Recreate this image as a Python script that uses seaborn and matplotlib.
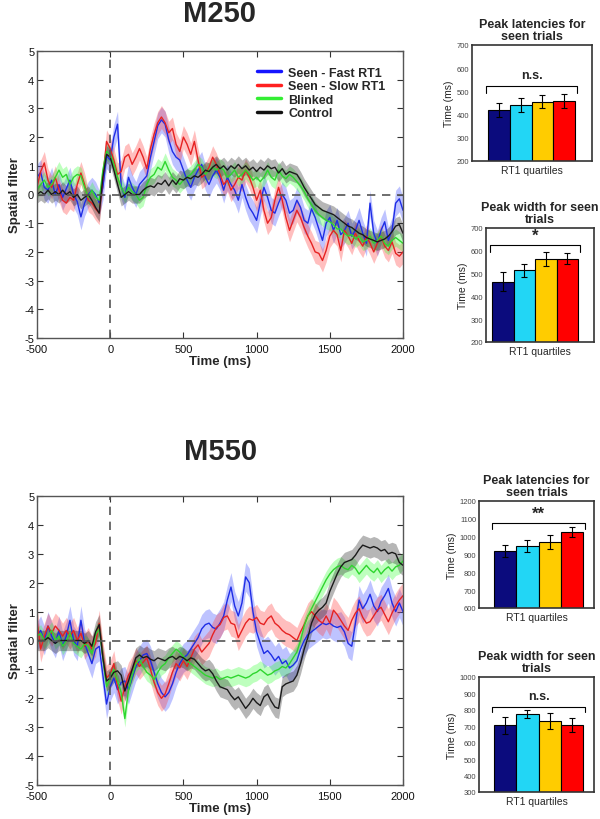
import numpy as np
import matplotlib
matplotlib.use("Agg")
import matplotlib.pyplot as plt
from matplotlib.lines import Line2D
import seaborn as sns

# ---- time courses (spatial filter output), sampled every 25 ms ----
time_ms = np.arange(-500, 2001, 25)

conditions = ["Seen - Fast RT1", "Seen - Slow RT1", "Blinked", "Control"]

m250_fast = [0.6, 0.77, 0.25, 0.15, 0.5, 0.0, 0.35, -0.1, 0.2, 0.5, 0.0, -0.25, -0.78, -0.3, 0.0, 0.15, 0.0, -0.3, 0.25, 1.35,
             1.2, 2.0, 2.45, 0.3, -0.1, 0.6, 0.25, 0.0, 0.35, 0.5, 0.65, 1.3, 1.85, 2.4, 2.6, 2.45, 1.9, 1.5, 1.3, 1.2,
             0.85, 0.5, 0.25, 0.6, 0.85, 1.05, 0.6, 0.35, 0.65, 0.85, 0.6, 0.15, 0.6, 0.35, 0.15, -0.2, 0.35, -0.1, -0.45, -0.65,
             -0.9, -0.3, 0.25, -0.1, -0.55, -0.65, -0.3, 0.0, -0.2, -0.65, -0.55, -0.2, -0.45, -0.9, -1.0, -0.5, -0.8, -1.2, -1.6, -1.0,
             -0.8, -1.25, -0.9, -1.4, -1.25, -1.0, -1.45, -1.25, -0.9, -1.35, -1.7, -0.3, -1.35, -1.7, -1.25, -0.95, -1.6, -1.25, -0.3, -0.15, -0.55]
m250_slow = [0.25, 0.8, 1.1, 0.5, 0.25, 0.6, 0.15, -0.2, -0.3, -0.1, -0.2, 0.35, 0.75, 0.35, -0.2, -0.3, -0.5, -0.65, 0.6, 1.85,
             1.6, 1.2, 0.7, 0.8, 1.3, 1.4, 1.05, 1.3, 1.6, 1.3, 0.9, 1.6, 2.1, 2.5, 2.7, 2.5, 2.15, 2.3, 1.75, 1.5,
             2.0, 1.75, 1.4, 1.85, 1.2, 0.6, 0.7, 0.95, 1.3, 1.05, 0.7, 0.35, 0.5, 0.15, 0.35, 0.6, 0.5, 0.85, 0.6, 0.25,
             -0.2, 0.15, -0.55, -1.0, -0.8, -0.2, 0.25, -0.2, -0.8, -1.25, -0.9, -0.55, -0.8, -1.15, -1.45, -1.7, -2.0, -2.05, -2.3, -1.95,
             -1.45, -1.25, -1.4, -1.95, -1.25, -1.45, -1.7, -1.35, -1.6, -1.8, -1.45, -1.7, -2.0, -1.7, -1.45, -1.8, -1.95, -1.65, -2.05, -2.15, -2.0]
m250_blink = [0.15, 0.35, 0.5, 0.25, 0.35, 0.6, 0.85, 0.6, 0.7, 0.35, 0.6, 0.7, 0.65, 0.25, -0.1, 0.15, -0.1, -0.2, 0.85, 1.5,
              1.4, 1.05, 0.6, 0.25, 0.0, 0.25, 0.1, 0.0, -0.2, -0.1, 0.35, 0.6, 0.7, 0.95, 0.85, 1.15, 0.85, 0.6, 0.5, 0.35,
              0.5, 0.6, 0.7, 0.85, 1.05, 0.95, 0.7, 0.85, 0.95, 0.85, 0.95, 0.85, 0.6, 0.7, 0.85, 0.6, 0.7, 0.85, 0.7, 0.5,
              0.6, 0.45, 0.6, 0.85, 0.6, 0.5, 0.85, 0.65, 0.55, 0.7, 0.6, 0.45, 0.3, 0.1, -0.15, -0.35, -0.55, -0.7, -0.8, -0.9,
              -0.95, -1.05, -1.2, -1.2, -1.35, -1.45, -1.4, -1.55, -1.45, -1.65, -1.6, -1.45, -1.7, -1.6, -1.45, -1.7, -1.8, -1.6, -1.5, -1.6, -1.7]
m250_ctrl = [0.0, 0.1, 0.0, 0.15, 0.0, 0.1, 0.0, 0.15, 0.0, 0.1, -0.1, 0.0, -0.2, -0.1, 0.0, -0.2, -0.45, -0.65, 0.6, 1.4,
             1.3, 0.85, 0.35, -0.1, 0.0, 0.1, 0.0, 0.0, 0.0, 0.15, 0.25, 0.3, 0.25, 0.4, 0.35, 0.5, 0.3, 0.5, 0.35, 0.55,
             0.5, 0.6, 0.55, 0.65, 0.6, 0.7, 0.85, 0.8, 0.95, 1.05, 0.9, 1.0, 0.85, 1.0, 0.9, 1.05, 0.9, 1.0, 0.85, 0.95,
             0.8, 0.95, 0.85, 1.0, 0.9, 0.95, 0.75, 0.9, 0.7, 0.8, 0.75, 0.7, 0.5, 0.25, 0.05, -0.15, -0.35, -0.45, -0.55, -0.6,
             -0.65, -0.7, -0.8, -0.9, -1.0, -1.1, -1.15, -1.25, -1.35, -1.4, -1.5, -1.55, -1.6, -1.65, -1.6, -1.55, -1.45, -1.3, -1.1, -1.05, -1.35]

m550_fast = [0.15, 0.35, 0.0, 0.5, 0.15, -0.1, 0.35, -0.2, 0.15, 0.7, 0.0, -0.2, 0.7, -0.1, -0.45, -0.8, -0.3, -0.2, -1.2, -2.2,
             -1.6, -1.3, -1.7, -1.45, -1.4, -1.7, -1.3, -0.9, -0.7, -0.5, -0.45, -0.7, -1.1, -1.5, -1.8, -1.95, -1.8, -1.5, -1.1, -0.8,
             -0.6, -0.5, -0.3, -0.1, 0.1, 0.4, 0.55, 0.6, 0.45, 0.4, 0.6, 0.85, 1.4, 1.85, 1.2, 0.85, 1.3, 2.2, 2.0, 1.0,
             0.3, -0.1, -0.45, -0.35, -0.5, -0.7, -0.55, -0.8, -0.7, -0.95, -0.85, -0.7, -0.3, 0.0, 0.2, 0.3, 0.4, 0.5, 0.6, 0.55,
             0.6, 0.5, 0.45, 0.5, 0.3, -0.1, -0.2, 0.6, 1.4, 1.1, 1.3, 1.6, 1.2, 1.0, 1.35, 1.55, 1.8, 1.3, 1.0, 1.3, 1.0]
m550_slow = [0.7, -0.3, 0.15, 0.5, 0.25, 0.5, 0.35, 0.15, 0.35, 0.15, 0.35, 0.0, 0.25, -0.2, 0.0, -0.3, -0.1, 0.6, -0.5, -1.3,
             -1.15, -0.8, -1.6, -2.1, -1.6, -1.2, -1.0, -0.7, -0.9, -0.75, -0.6, -1.0, -1.45, -1.8, -2.0, -1.85, -1.5, -1.1, -0.8, -0.95,
             -0.7, -0.9, -0.6, -0.3, -0.15, -0.4, -0.25, -0.1, 0.2, 0.45, 0.55, 0.8, 0.85, 0.6, 0.55, 0.1, 0.35, 0.6, 0.75, 0.7,
             0.8, 0.6, 0.55, 0.75, 0.85, 0.6, 0.5, 0.35, 0.25, 0.2, 0.1, 0.0, 0.3, 0.55, 0.85, 1.0, 0.85, 0.7, 0.6, 0.85,
             0.6, 1.05, 0.9, 0.7, 0.5, 0.35, 0.7, 0.95, 1.1, 0.8, 0.6, 0.65, 0.85, 1.05, 1.15, 0.9, 0.65, 0.95, 1.2, 1.4, 1.55]
m550_blink = [0.15, 0.25, 0.0, 0.15, 0.35, 0.0, 0.15, -0.2, 0.0, 0.25, -0.1, -0.2, -0.3, -0.1, -0.2, -0.45, 0.2, 0.4, -0.6, -1.6,
              -1.3, -1.0, -1.4, -1.8, -2.7, -1.7, -1.2, -0.8, -0.65, -0.9, -1.1, -1.2, -1.35, -1.1, -0.9, -0.8, -0.6, -0.45, -0.3, -0.4,
              -0.55, -0.7, -0.8, -0.9, -1.0, -1.1, -1.2, -1.25, -1.3, -1.25, -1.35, -1.3, -1.25, -1.3, -1.25, -1.2, -1.25, -1.3, -1.25, -1.15,
              -1.1, -1.0, -1.1, -1.2, -1.15, -1.05, -1.0, -0.9, -0.95, -0.8, -0.6, -0.4, 0.0, 0.5, 0.85, 1.1, 1.35, 1.6, 1.85, 2.1,
              2.3, 2.45, 2.55, 2.6, 2.5, 2.45, 2.6, 2.5, 2.3, 2.45, 2.6, 2.45, 2.35, 2.5, 2.3, 2.45, 2.55, 2.4, 2.55, 2.6, 2.75]
m550_ctrl = [0.0, 0.0, 0.0, 0.1, 0.0, -0.1, 0.0, 0.0, 0.0, 0.0, 0.0, 0.0, 0.0, -0.1, 0.0, -0.2, 0.3, 0.55, -0.6, -1.4,
             -1.3, -1.1, -1.05, -1.2, -1.75, -1.4, -1.0, -0.6, -0.5, -0.6, -0.55, -0.65, -0.7, -0.6, -0.65, -0.7, -0.6, -0.55, -0.65, -0.55,
             -0.6, -0.7, -0.6, -0.65, -0.8, -0.95, -1.05, -1.0, -1.15, -1.4, -1.6, -1.65, -1.7, -1.9, -2.05, -1.95, -2.15, -2.35, -2.2, -2.0,
             -2.15, -2.25, -1.95, -1.85, -2.1, -2.3, -2.35, -1.6, -1.5, -1.45, -1.4, -1.2, -0.8, -0.3, 0.1, 0.6, 0.9, 1.05, 1.15, 1.3,
             1.7, 2.0, 2.3, 2.55, 2.7, 2.75, 2.8, 2.95, 3.15, 3.3, 3.25, 3.2, 3.25, 3.2, 3.1, 3.15, 3.0, 3.05, 3.0, 2.7, 2.6]

# half width of the shaded error band, per condition
m250_err = [0.45, 0.4, 0.3, 0.3]
m550_err = [0.5, 0.45, 0.3, 0.35]

line_colors = ["#1e2de6", "#e62222", "#2ed62e", "#1a1a1a"]
band_colors = ["#3b4bff", "#ff3b3b", "#3bff3b", "#222222"]

# ---- peak statistics per RT1 quartile ----
quartiles = ["Q1", "Q2", "Q3", "Q4"]
bar_colors = ["#0b0b7d", "#22d6f5", "#ffcc00", "#ff0000"]

m250_lat = [418, 441, 456, 459]
m250_lat_err = [30, 30, 27, 30]
m250_wid = [465, 514, 563, 565]
m250_wid_err = [40, 30, 30, 25]
m550_lat = [920, 947, 970, 1027]
m550_lat_err = [33, 33, 38, 30]
m550_wid = [705, 777, 733, 708]
m550_wid_err = [50, 25, 48, 42]

sig_labels = ["n.s.", "*", "**", "n.s."]
bracket_levels = [523, 624, 1075, 820]   # height of the comparison bracket
bracket_drop = [28, 29, 30, 30]


sns.set_theme(style="ticks")
plt.rcParams['font.family'] = ['Liberation Sans', 'DejaVu Sans']
plt.rcParams['axes.unicode_minus'] = False

fig = plt.figure(figsize=(6, 8.2), dpi=100)


def plot_traces(ax, series, errs, legend=False):
    for name, vals, err, lc, bc in zip(conditions, series, errs, line_colors, band_colors):
        vals = np.asarray(vals)
        ax.fill_between(time_ms, vals - err, vals + err, color=bc, alpha=0.33, lw=0)
    for name, vals, lc in zip(conditions, series, line_colors):
        sns.lineplot(x=time_ms, y=vals, color=lc, lw=1.0, ax=ax, legend=False)
    ax.axvline(0, color="#555555", ls=(0, (5, 4)), lw=1.2, zorder=5)
    ax.axhline(0, color="#555555", ls=(0, (5, 4)), lw=1.2, zorder=5)
    ax.set_xlim(-500, 2000)
    ax.set_ylim(-5, 5)
    ax.set_xticks(np.arange(-500, 2001, 500))
    ax.set_yticks(np.arange(-5, 6, 1))
    ax.tick_params(direction="in", top=True, right=True, length=4, width=0.8,
                   labelsize=8, pad=2, colors="#333333", labelcolor="#111111")
    ax.tick_params(axis="x", pad=4)
    for s in ax.spines.values():
        s.set_color("#555555")
        s.set_linewidth(1.0)
    ax.set_xlabel("Time (ms)", fontsize=9.5, fontweight="bold", labelpad=1)
    ax.set_ylabel("Spatial filter", fontsize=9.5, fontweight="bold", labelpad=2)
    if legend:
        handles = [Line2D([0], [0], color=c, lw=2.5) for c in ["#1515ff", "#ff2020", "#33ee33", "#111111"]]
        ax.legend(handles, conditions, loc="upper left", bbox_to_anchor=(0.57, 0.985), frameon=False,
                  handlelength=1.9, handletextpad=0.6, labelspacing=0.12,
                  prop={"weight": "bold", "size": 9})


def plot_bars(ax, vals, errs, ylim, yticks, title, idx, xlim):
    sns.barplot(x=quartiles, y=vals, hue=quartiles, palette=bar_colors, width=1.0, saturation=1,
                edgecolor="black", linewidth=0.8, legend=False, ax=ax)
    ax.errorbar(np.arange(len(vals)), vals, yerr=errs, fmt="none", ecolor="black",
                elinewidth=0.8, capsize=2, capthick=0.8)
    top = bracket_levels[idx]
    low = top - bracket_drop[idx]
    ax.plot([-0.58, -0.58, 3.6, 3.6], [low, top, top, low], color="black", lw=0.8)
    span = ylim[1] - ylim[0]
    if sig_labels[idx].startswith("*"):
        ax.text(1.5, top + 0.02 * span, sig_labels[idx], ha="center", va="bottom",
                fontsize=12, fontweight="bold")
    else:
        ax.text(1.5, top + 0.04 * span, sig_labels[idx], ha="center", va="bottom",
                fontsize=9, fontweight="bold")
    ax.set_xlim(*xlim)
    ax.set_ylim(*ylim)
    ax.set_yticks(yticks)
    ax.set_xticks([])
    ax.tick_params(axis="y", length=0, labelsize=5.5, labelcolor="#444444", pad=2)
    for s in ax.spines.values():
        s.set_color("#333333")
        s.set_linewidth(1.2)
    ax.set_xlabel("RT1 quartiles", fontsize=7.5, labelpad=3)
    ax.set_ylabel("Time (ms)", fontsize=7.5, labelpad=2)
    ax.set_title(title, fontsize=9, fontweight="bold", pad=4, linespacing=1.05)


ax1 = fig.add_axes([37 / 600, 1 - 339 / 820, 366 / 600, 287 / 820])
plot_traces(ax1, [m250_fast, m250_slow, m250_blink, m250_ctrl], m250_err, legend=True)
ax2 = fig.add_axes([37 / 600, 1 - 786 / 820, 366 / 600, 289 / 820])
plot_traces(ax2, [m550_fast, m550_slow, m550_blink, m550_ctrl], m550_err)

fig.text(220 / 600, 1 - 14 / 820, "M250", ha="center", va="center", fontsize=21, fontweight="bold")
fig.text(221 / 600, 1 - 452 / 820, "M550", ha="center", va="center", fontsize=21, fontweight="bold")

b1 = fig.add_axes([472 / 600, 1 - 162 / 820, 120 / 600, 116 / 820])
plot_bars(b1, m250_lat, m250_lat_err, (200, 700), np.arange(200, 701, 100),
          "Peak latencies for\nseen trials", 0, (-1.24, 4.28))
b2 = fig.add_axes([486 / 600, 1 - 343 / 820, 108 / 600, 114 / 820])
plot_bars(b2, m250_wid, m250_wid_err, (200, 700), np.arange(200, 701, 100),
          "Peak width for seen\ntrials", 1, (-0.78, 4.24))
b3 = fig.add_axes([479 / 600, 1 - 609 / 820, 115 / 600, 107 / 820])
plot_bars(b3, m550_lat, m550_lat_err, (600, 1200), np.arange(600, 1201, 100),
          "Peak latencies for\nseen trials", 2, (-1.17, 3.99))
b4 = fig.add_axes([479 / 600, 1 - 793 / 820, 115 / 600, 115 / 820])
plot_bars(b4, m550_wid, m550_wid_err, (300, 1000), np.arange(300, 1001, 100),
          "Peak width for seen\ntrials", 3, (-1.17, 3.99))

fig.savefig("out.png", dpi=100)
plt.close(fig)
